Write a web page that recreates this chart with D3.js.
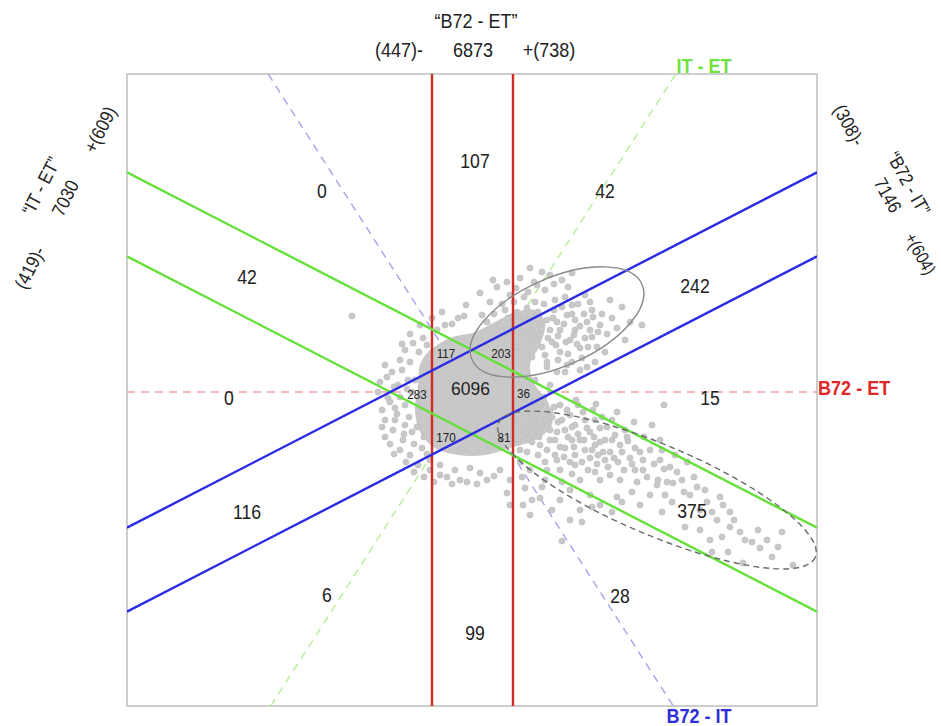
<!DOCTYPE html>
<html>
<head>
<meta charset="utf-8">
<script src="https://cdn.jsdelivr.net/npm/d3@7"></script>
<style>
  body { margin: 0; background: #fff; }
  text { font-family: "Liberation Sans", Arial, sans-serif; }
</style>
</head>
<body>
<svg id="chart" width="941" height="726"></svg>
<script>
// ---- plot frame (data units) ----
const xDomain = [-345, 345];
const yDomain = [-314, 318];

// threshold lines
const b72EtCuts = [-40, 41];          // vertical red cuts on the B72 - ET axis
const bandSlope = 0.515;
const itEtOffsets = [42, -42];        // green: y = -bandSlope * x + c
const b72ItOffsets = [42, -42];       // blue:  y =  bandSlope * x + c
const diagSlope = 1.56;               // dashed IT - ET / B72 - IT directions

// region counts and their anchors
const regionCounts = [107, 42, 0, 42, 242, 0, 15, 116, 375, 6, 28, 99];
const regionAnchors = [[3, 232], [133, 202], [-150, 202], [-225, 116], [223, 107], [-243, -5],
                       [238, -5], [-225, -119], [220, -118], [-145, -202], [148, -203], [3, -240]];
const innerCounts = [117, 203, 283, 36, 170, 81];
const innerAnchors = [[-26, 39], [29, 39], [-55, -2], [51.5, -1], [-26, -45.5], [32, -45.5]];
const coreCount = 6096;
const coreAnchor = [-1.5, 3.5];

// axis titles
const topTitle = ["\u201CB72 - ET\u201D", "(447)-", "6873", "+(738)"];
const leftTitle = ["\u201CIT - ET\u201D", "(419)-", "7030", "+(609)"];
const rightTitle = ["\u201CB72 - IT\u201D", "(308)-", "7146", "+(604)"];

// dense core outline of the scatter
const coreOutline = [[-44, 40], [-22, 54], [3, 60], [23, 70], [43, 80], [63, 82], [73, 70], [68, 47],
  [58, 27], [63, 7], [76, -10], [80, -33], [63, -48], [38, -56], [13, -63], [-14, -63], [-37, -56],
  [-52, -40], [-57, -18], [-54, 7], [-52, 27]];

// individual scatter points: core fringe
const pointsCore = [
  [-120, 76], [-87, 27], [-80, 20], [-72, 32], [-67, 42], [-59, 49], [-49, 54], [-74, 7], [-84, -6],
  [-77, -16], [-67, -13], [-87, -28], [-79, -38], [-69, -48], [-60, -40], [-87, -45], [-72, -58],
  [-62, -63], [-50, -56], [-42, -68], [-54, -73], [-32, -73], [-17, -78], [-2, -76], [8, -81],
  [-77, -28], [-64, 12], [-60, 0], [-67, -33], [-32, -83], [-12, -88], [-42, -78], [28, -78],
  [38, -88], [-94, 0], [-90, -18], [-52, 67], [-40, 74], [-27, 67], [-14, 74], [-6, 87],
  [-85, 15], [-82, -10], [-78, 5], [-75, -22], [-72, -5], [-70, 22], [-68, -42], [-65, 3], [-63, -25],
  [-62, 30], [-58, -52], [-57, 12], [-55, -35], [-53, 40], [-50, -15], [-48, -45], [-47, 20], [-45, 47],
  [-45, -62], [-82, -52], [-90, -35], [-92, 10], [-78, -62], [-66, -70], [-58, -80], [-48, -85],
  [-38, -90], [-25, -85], [-20, -92], [-5, -90], [5, -92], [15, -88], [22, -84], [-70, 48], [-62, 58],
  [-35, 62], [-20, 68], [-30, 80], [-8, 76]
];

// individual scatter points: upper-right group
const pointsUpper = [
  [21, 112], [48, 114], [65, 107], [100, 119], [96, 105], [38, 97], [56, 100], [73, 102], [83, 92],
  [93, 95], [100, 87], [95, 77], [103, 72], [120, 82], [121, 75], [113, 54], [125, 45], [118, 62],
  [98, 52], [108, 44], [86, 32], [95, 27], [75, 25], [73, 37], [88, 62], [76, 54], [81, 74], [68, 67],
  [103, 62], [170, 67], [140, 74], [153, 52], [133, 40], [123, 30], [8, 99], [18, 90], [33, 82],
  [10, 77], [58, 124], [78, 117], [138, 92], [113, 97], [128, 67], [84, 47], [93, 20], [108, 22],
  [63, 12], [78, 7],
  [15, 70], [22, 78], [28, 66], [30, 88], [36, 74], [40, 62], [42, 90], [45, 80], [48, 70], [50, 57],
  [52, 95], [55, 84], [57, 72], [60, 62], [62, 52], [63, 90], [66, 80], [68, 58], [70, 45], [72, 88],
  [75, 72], [78, 62], [80, 50], [82, 82], [85, 70], [86, 56], [88, 40], [90, 85], [92, 68], [94, 50],
  [96, 38], [100, 78], [102, 57], [105, 48], [106, 88], [108, 66], [110, 34], [112, 78], [115, 70],
  [116, 45], [118, 90], [120, 55], [126, 60], [130, 78], [135, 58], [145, 64], [150, 85], [158, 70],
  [25, 105], [35, 110], [44, 104], [62, 110], [82, 108], [70, 120], [90, 112], [55, 40], [45, 45],
  [35, 55], [60, 35], [75, 30], [85, 20], [100, 30], [115, 25]
];

// individual scatter points: lower-right tail
const pointsTail = [
  [48, -8], [58, -18], [68, -13], [78, -20], [88, -13], [98, -23], [103, -33], [113, -28], [118, -40],
  [128, -36], [133, -48], [123, -53], [108, -48], [93, -56], [83, -63], [73, -70], [88, -78],
  [103, -73], [118, -66], [138, -60], [148, -53], [146, -70], [158, -66], [156, -49], [163, -56],
  [171, -68], [171, -78], [180, -33], [192, -13], [185, -93], [192, -77], [201, -91], [210, -88],
  [186, -88], [193, -103], [222, -85], [228, -118], [145, -105], [128, -88], [123, -80], [138, -83],
  [108, -88], [118, -103], [98, -98], [73, -88], [58, -78], [48, -70], [68, -53], [51, -38], [63, -33],
  [78, -38], [93, -38], [106, -13], [121, -18], [140, -28], [153, -38], [251, -113], [258, -120],
  [245, -128], [258, -135], [286, -138], [306, -155], [288, -156], [256, -160], [271, -171],
  [321, -173], [213, -135], [168, -113], [178, -103], [128, -113], [88, -108], [68, -106], [53, -96],
  [35, -101], [51, -113], [98, -128], [90, -149], [108, -118], [148, -88], [163, -78], [178, -58],
  [188, -48], [203, -63], [218, -103], [233, -98], [228, -138], [273, -148], [238, -148], [58, -123],
  [38, -113], [188, -68], [143, -43], [126, -63], [56, -26], [73, -28], [86, -30], [100, -48],
  [113, -58], [83, -48], [66, -63], [103, -63], [123, -28], [133, -68], [48, -58], [43, -28], [46, -48],
  [45, -15], [52, -5], [55, -40], [60, -50], [62, -10], [65, -22], [67, -45], [70, -35], [72, -5],
  [75, -58], [78, -48], [80, -25], [82, -15], [85, -40], [88, -55], [90, -28], [92, -65], [95, -18],
  [96, -45], [98, -70], [100, -35], [102, -55], [104, -8], [106, -42], [110, -70], [111, -20],
  [112, -48], [115, -36], [116, -78], [120, -58], [122, -45], [124, -12], [125, -72], [128, -50],
  [130, -25], [131, -60], [135, -35], [136, -75], [140, -48], [142, -66], [145, -20], [150, -60],
  [152, -78], [155, -45], [160, -72], [162, -30], [165, -90], [168, -60], [172, -45], [175, -85],
  [182, -72], [190, -58], [195, -90], [198, -75], [205, -80], [212, -100], [215, -70], [225, -95],
  [235, -110], [240, -120], [248, -105], [262, -128], [268, -140], [280, -150], [295, -148],
  [300, -165], [310, -140], [240, -160], [250, -145], [200, -110], [190, -120], [160, -100],
  [150, -110], [140, -120], [120, -115], [110, -130], [80, -118], [70, -95], [60, -108], [90, -90],
  [100, -82], [55, -60], [50, -85], [75, -78], [85, -68]
];

// outlined groups: [cx, cy, rx, ry, tilt°]
const groupSolid = [85, 70, 93, 44, -24];
const groupDashed = [185, -98, 172, 45, 23];

// ---- drawing ----
const svg = d3.select("#chart");
const x = d3.scaleLinear().domain(xDomain).range([127, 817]);
const y = d3.scaleLinear().domain(yDomain).range([706, 74]);
const line = d3.line().x(d => x(d[0])).y(d => y(d[1]));

svg.append("defs").append("clipPath").attr("id", "plot")
  .append("rect")
  .attr("x", x(xDomain[0])).attr("y", y(yDomain[1]))
  .attr("width", x(xDomain[1]) - x(xDomain[0]))
  .attr("height", y(yDomain[0]) - y(yDomain[1]));

svg.append("rect")
  .attr("x", x(xDomain[0])).attr("y", y(yDomain[1]))
  .attr("width", x(xDomain[1]) - x(xDomain[0]))
  .attr("height", y(yDomain[0]) - y(yDomain[1]))
  .attr("fill", "none").attr("stroke", "#bdbdbd").attr("stroke-width", 1.5);

const plot = svg.append("g").attr("clip-path", "url(#plot)");

// dashed reference directions
plot.append("path").attr("d", line([[xDomain[0], 0], [xDomain[1], 0]]))
  .attr("stroke", "#f3a3a3").attr("stroke-width", 1.4).attr("stroke-dasharray", "8,6").attr("fill", "none");
plot.append("path").attr("d", line([[yDomain[0] / diagSlope, yDomain[0]], [yDomain[1] / diagSlope, yDomain[1]]]))
  .attr("stroke", "#b4f094").attr("stroke-width", 1.4).attr("stroke-dasharray", "8,6").attr("fill", "none");
plot.append("path").attr("d", line([[-yDomain[1] / diagSlope, yDomain[1]], [-yDomain[0] / diagSlope, yDomain[0]]]))
  .attr("stroke", "#a3a3f0").attr("stroke-width", 1.4).attr("stroke-dasharray", "8,6").attr("fill", "none");

// scatter
const pointFill = "#c8c8c8";
plot.append("path")
  .attr("d", d3.line().x(d => x(d[0])).y(d => y(d[1])).curve(d3.curveCatmullRomClosed)(coreOutline))
  .attr("fill", pointFill);
plot.append("g").selectAll("circle").data(pointsCore.concat(pointsUpper, pointsTail)).join("circle")
  .attr("cx", d => x(d[0])).attr("cy", d => y(d[1])).attr("r", 3.1)
  .attr("fill", pointFill).attr("stroke", "#bcbcbc").attr("stroke-width", 0.6);

// solid threshold lines
b72EtCuts.forEach(c => {
  plot.append("path").attr("d", line([[c, yDomain[0]], [c, yDomain[1]]]))
    .attr("stroke", "#d22b25").attr("stroke-width", 2.4).attr("fill", "none");
});
itEtOffsets.forEach(c => {
  plot.append("path").attr("d", line(xDomain.map(v => [v, -bandSlope * v + c])))
    .attr("stroke", "#66e03a").attr("stroke-width", 2.4).attr("fill", "none");
});
b72ItOffsets.forEach(c => {
  plot.append("path").attr("d", line(xDomain.map(v => [v, bandSlope * v + c])))
    .attr("stroke", "#2b2be3").attr("stroke-width", 2.4).attr("fill", "none");
});

// group outlines
function ellipse(spec, dash) {
  const [cx, cy, rx, ry, tilt] = spec;
  plot.append("ellipse")
    .attr("transform", `translate(${x(cx)},${y(cy)}) rotate(${tilt})`)
    .attr("rx", x(rx) - x(0)).attr("ry", y(0) - y(ry))
    .attr("fill", "none").attr("stroke", dash ? "#6a6a6a" : "#8a8a8a")
    .attr("stroke-width", 1.4).attr("stroke-dasharray", dash ? "6,4" : null);
}
ellipse(groupSolid, false);
ellipse(groupDashed, true);

// text helper with slightly narrowed glyphs
function label(parent, tx, ty, str, size, opts = {}) {
  parent.append("text")
    .attr("transform", `translate(${tx},${ty}) scale(${opts.sx || 0.84},1)`)
    .attr("text-anchor", opts.anchor || "middle")
    .attr("dy", opts.dy === undefined ? "0.36em" : opts.dy)
    .attr("font-size", size)
    .attr("font-weight", opts.bold ? "bold" : "normal")
    .attr("fill", opts.color || "#222")
    .text(str);
}

regionCounts.forEach((v, i) => label(svg, x(regionAnchors[i][0]), y(regionAnchors[i][1]), v, 21));
innerCounts.forEach((v, i) => label(svg, x(innerAnchors[i][0]), y(innerAnchors[i][1]), v, 13, { sx: 0.9 }));
label(svg, x(coreAnchor[0]), y(coreAnchor[1]), coreCount, 19, { sx: 0.92 });

// axis direction labels
label(svg, 818, 395, "B72 - ET", 21, { anchor: "start", dy: 0, bold: true, color: "#e02828", sx: 0.86 });
label(svg, 704, 73, "IT - ET", 21, { dy: 0, bold: true, color: "#6ee23e", sx: 0.86 });
label(svg, 699, 723, "B72 - IT", 21, { dy: 0, bold: true, color: "#3030d6", sx: 0.86 });

// axis titles
const topG = svg.append("g");
label(topG, 476, 28, topTitle[0], 20, { dy: 0, sx: 0.9 });
label(topG, 399, 57, topTitle[1], 20, { dy: 0, sx: 0.9 });
label(topG, 473, 57, topTitle[2], 20, { dy: 0, sx: 0.9 });
label(topG, 549, 57, topTitle[3], 20, { dy: 0, sx: 0.9 });

const leftG = svg.append("g").attr("transform", "translate(65,198) rotate(-63)");
label(leftG, 0, -27, leftTitle[0], 19, { sx: 0.88 });
label(leftG, -78, 0, leftTitle[1], 19, { sx: 0.88 });
label(leftG, 0, 0, leftTitle[2], 19, { sx: 0.88 });
label(leftG, 77, 0, leftTitle[3], 19, { sx: 0.88 });

const rightG = svg.append("g").attr("transform", "translate(888,195) rotate(61)");
label(rightG, 0, -24, rightTitle[0], 19, { sx: 0.86 });
label(rightG, -80, 0, rightTitle[1], 19, { sx: 0.86 });
label(rightG, 0, 0, rightTitle[2], 19, { sx: 0.86 });
label(rightG, 67, 0, rightTitle[3], 18, { sx: 0.85 });
</script>
</body>
</html>
